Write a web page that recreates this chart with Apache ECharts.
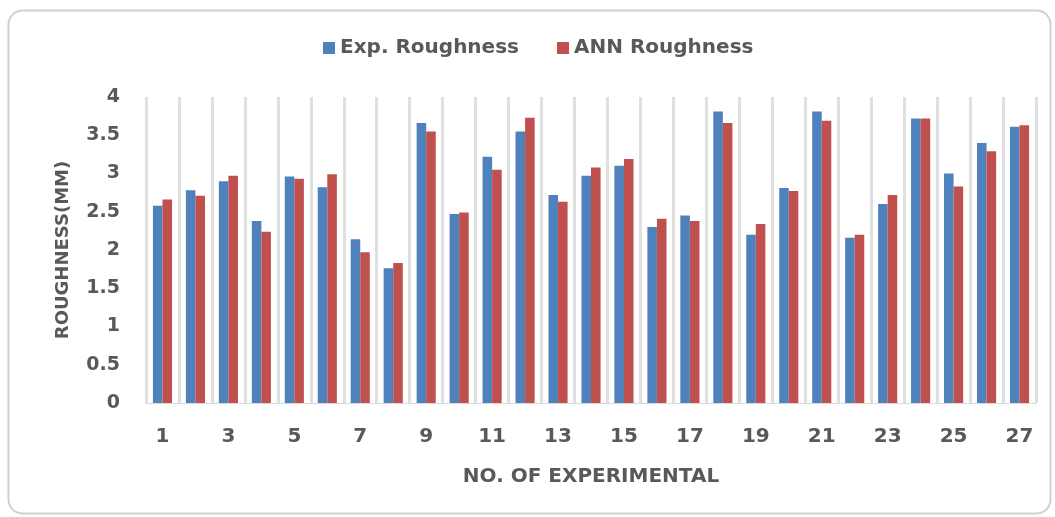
<!DOCTYPE html>
<html>
<head>
<meta charset="utf-8">
<script src="https://cdn.jsdelivr.net/npm/echarts@6/dist/echarts.min.js"></script>
<style>
  html, body { margin: 0; padding: 0; background: #ffffff; }
  #chart { width: 1055px; height: 517px; }
</style>
</head>
<body>
<div id="chart"></div>
<script>
// Experiment numbers 1..27
const experiments = ['1','2','3','4','5','6','7','8','9','10','11','12','13','14',
  '15','16','17','18','19','20','21','22','23','24','25','26','27'];

// Measured surface roughness per experiment
const expRoughness = [2.58, 2.78, 2.90, 2.38, 2.96, 2.82, 2.14, 1.76, 3.66, 2.47,
  3.22, 3.55, 2.72, 2.97, 3.10, 2.30, 2.45, 3.81, 2.20, 2.81,
  3.81, 2.16, 2.60, 3.72, 3.00, 3.40, 3.61];

// ANN-predicted surface roughness per experiment
const annRoughness = [2.66, 2.71, 2.97, 2.24, 2.93, 2.99, 1.97, 1.83, 3.55, 2.49,
  3.05, 3.73, 2.63, 3.08, 3.19, 2.41, 2.38, 3.66, 2.34, 2.77,
  3.69, 2.20, 2.72, 3.72, 2.83, 3.29, 3.63];

const yTicks = { min: 0, max: 4, interval: 0.5 };

const textGray = '#595959';
const fontFam = '"DejaVu Sans", "Open Sans", sans-serif';

const chart = echarts.init(document.getElementById('chart'), null, { renderer: 'canvas' });

chart.setOption({
  animation: false,
  backgroundColor: '#ffffff',
  graphic: [{
    type: 'rect',
    left: 6, top: 8,
    shape: { width: 1042, height: 503, r: 14 },
    style: { fill: 'none', stroke: '#d0d0d0', lineWidth: 2 },
    z: -1
  }],
  legend: {
    top: 33,
    left: 318,
    itemWidth: 12,
    itemHeight: 12,
    itemGap: 38,
    icon: 'rect',
    textStyle: { color: textGray, fontSize: 20, fontWeight: 'bold', fontFamily: fontFam }
  },
  grid: { left: 146, right: 19, top: 97, bottom: 114 },
  xAxis: {
    type: 'category',
    data: experiments,
    name: 'NO. OF EXPERIMENTAL',
    nameLocation: 'middle',
    nameGap: 64,
    nameMoveOverlap: false,
    nameTextStyle: { color: textGray, fontSize: 20, fontWeight: 'bold', fontFamily: fontFam },
    axisLine: { show: true, lineStyle: { color: '#d9d9d9', width: 1 } },
    axisTick: { show: false },
    axisLabel: { interval: 1, color: textGray, fontSize: 20, fontWeight: 'bold', fontFamily: fontFam, margin: 24 },
    splitLine: { show: true, interval: 0, lineStyle: { color: '#e0e0e0', width: 3 } }
  },
  yAxis: {
    type: 'value',
    min: yTicks.min, max: yTicks.max, interval: yTicks.interval,
    name: 'ROUGHNESS(MM)',
    nameLocation: 'middle',
    nameGap: 74,
    nameMoveOverlap: false,
    nameTextStyle: { color: textGray, fontSize: 18, fontWeight: 'bold', fontFamily: fontFam },
    axisLine: { show: false },
    axisTick: { show: false },
    axisLabel: { color: textGray, fontSize: 19, fontWeight: 'bold', fontFamily: fontFam, margin: 26 },
    splitLine: { show: false }
  },
  series: [
    {
      name: 'Exp. Roughness',
      type: 'bar',
      data: expRoughness,
      barGap: '0%',
      barCategoryGap: '42%',
      itemStyle: { color: '#4f81bd' }
    },
    {
      name: 'ANN Roughness',
      type: 'bar',
      data: annRoughness,
      itemStyle: { color: '#c0504d' }
    }
  ]
});
</script>
</body>
</html>
